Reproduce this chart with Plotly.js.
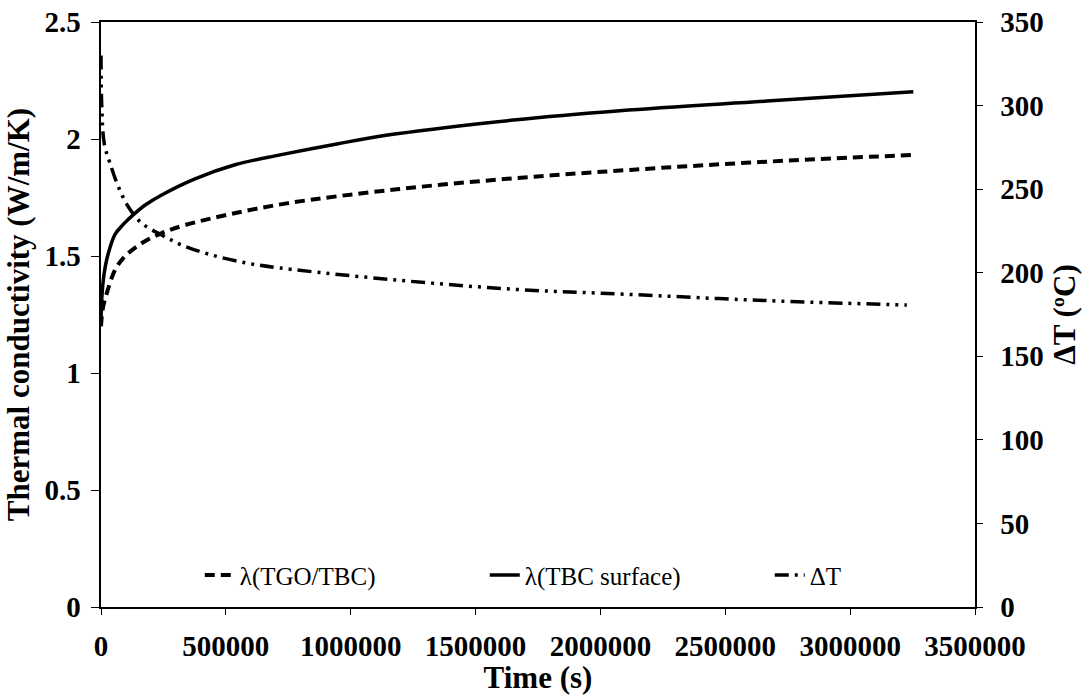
<!DOCTYPE html>
<html>
<head>
<meta charset="utf-8">
<script src="https://cdn.plot.ly/plotly-3.0.1.min.js"></script>
<style>html,body{margin:0;padding:0;background:#fff;}#chart{width:1089px;height:695px;}</style>
</head>
<body>
<div id="chart"></div>
<script>
// λ(TBC surface)
var tSurface = [0, 1500, 4500, 9200, 18000, 29200, 56100, 90000, 133400, 180000, 243100, 376400, 536600, 716800, 950000, 1184000, 1651000, 2078000, 2666000, 3253000];
var lamSurface = [1.2, 1.28, 1.34, 1.397, 1.46, 1.511, 1.592, 1.636, 1.680, 1.720, 1.761, 1.830, 1.890, 1.932, 1.980, 2.022, 2.081, 2.121, 2.162, 2.202];
// λ(TGO/TBC)
var tTgo = [0, 3000, 8000, 22800, 56100, 90000, 122900, 176200, 243100, 336400, 509800, 743600, 1184000, 1651000, 2118000, 2666000, 3253000];
var lamTgo = [1.2, 1.24, 1.28, 1.34, 1.44, 1.492, 1.524, 1.563, 1.598, 1.632, 1.677, 1.725, 1.785, 1.832, 1.868, 1.903, 1.932];
// ΔT
var tDT = [0, 3000, 13200, 36000, 69300, 109300, 163000, 243100, 323200, 443300, 589900, 716800, 1184000, 1651000, 2105000, 2666000, 3227000];
var dT = [330, 300, 277, 265.5, 251.5, 239.5, 229.6, 222.6, 216.6, 210.6, 205.6, 202.8, 195.6, 190.1, 187.1, 183.3, 180.7];

var xTicks = [0, 500000, 1000000, 1500000, 2000000, 2500000, 3000000, 3500000];

var SERIF = '"Liberation Serif", "Times New Roman", Times, serif';
var tickFont = {family: SERIF, size: 29, color: '#000', weight: 'bold'};
var titleFont = {family: SERIF, size: 31, color: '#000', weight: 'bold'};

var traces = [
  {x: tTgo, y: lamTgo, name: 'λ(TGO/TBC)', type: 'scatter', mode: 'lines',
   line: {color: '#000', width: 4, dash: '10px,6px', shape: 'spline', smoothing: 1}},
  {x: tSurface, y: lamSurface, name: 'λ(TBC surface)', type: 'scatter', mode: 'lines',
   line: {color: '#000', width: 3.5, shape: 'spline', smoothing: 1}},
  {x: tDT, y: dT, name: 'ΔT', type: 'scatter', mode: 'lines', yaxis: 'y2',
   line: {color: '#000', width: 3.5, dash: '14px,6px,3px,6px,3px,6px', shape: 'spline', smoothing: 1}}
];

var layout = {
  width: 1089, height: 695,
  margin: {l: 101, r: 114, t: 22, b: 88},
  paper_bgcolor: '#fff', plot_bgcolor: '#fff',
  font: {family: SERIF, color: '#000'},
  showlegend: true,
  legend: {orientation: 'h', x: 0.113, y: 0.015, xanchor: 'left', yanchor: 'bottom',
           bgcolor: 'rgba(0,0,0,0)', entrywidth: 240, entrywidthmode: 'pixels',
           font: {family: SERIF, size: 25, color: '#000'}},
  xaxis: {range: [0, 3500000], tickvals: xTicks, ticktext: xTicks.map(String),
          showgrid: false, zeroline: false, showline: true, linecolor: '#000', linewidth: 2,
          mirror: true, ticks: 'outside', ticklen: 6, tickcolor: '#000', ticklabelstandoff: 6,
          tickfont: tickFont, title: {text: 'Time (s)', font: titleFont, standoff: 6}},
  yaxis: {range: [0, 2.5], dtick: 0.5, showgrid: false, zeroline: false,
          showline: true, linecolor: '#000', linewidth: 2.5, ticks: 'outside', ticklen: 8,
          tickcolor: '#000', tickfont: tickFont, ticklabelstandoff: 4,
          title: {text: 'Thermal conductivity (W/m/K)', font: titleFont, standoff: 6}},
  yaxis2: {range: [0, 350], dtick: 50, overlaying: 'y', side: 'right', showgrid: false,
           zeroline: false, showline: true, linecolor: '#000', linewidth: 1.5,
           ticks: 'outside', ticklen: 6, tickcolor: '#000', tickfont: tickFont,
           ticklabelstandoff: 12,
           title: {text: 'ΔT (ºC)', font: titleFont, standoff: 10}}
};

Plotly.newPlot('chart', traces, layout, {displayModeBar: false, staticPlot: true});
</script>
</body>
</html>
